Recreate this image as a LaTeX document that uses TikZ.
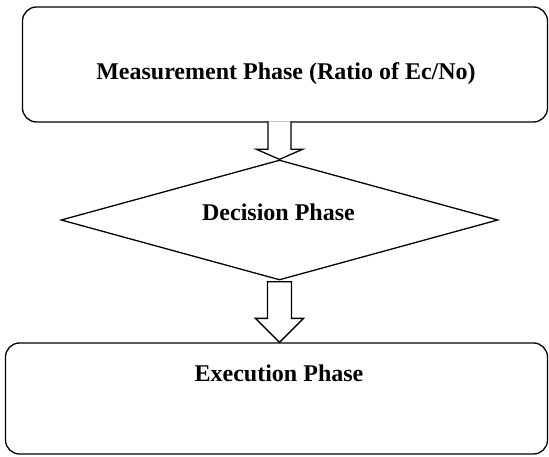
\documentclass[tikz,border=0pt]{standalone}
\usepackage{fontspec}
\setmainfont{Liberation Serif}
\usetikzlibrary{shapes.geometric,calc}
\tikzset{
  phasebox/.style={draw=black, line width=1.3pt, rounded corners=14pt, inner sep=0pt},
  decbox/.style={draw=black, line width=1.3pt, diamond, inner sep=0pt},
  lbl/.style={font=\fontsize{24}{28}\selectfont\bfseries, anchor=base, inner sep=0pt},
  blockarrow/.style={draw=black, line width=1.3pt, fill=white, line join=miter}
}
\begin{document}
\begin{tikzpicture}[x=1pt,y=-1pt]
\useasboundingbox (0,0) rectangle (549,457);
\node[phasebox, minimum width=525pt, minimum height=115pt] (meas) at (285,64.5) {};
\node[decbox, minimum width=437pt, minimum height=120pt] (dec) at (279.5,220) {};
\node[phasebox, minimum width=542pt, minimum height=111pt] (exec) at (276.5,398.5) {};
\node[lbl] (tmeas) at (286,80) {Measurement Phase (Ratio of Ec/No)};
\node[lbl] (tdec) at (278.5,221) {Decision Phase};
\node[lbl] (texec) at (279,381) {Execution Phase};
% arrow 1
\coordinate (t1) at (dec.north);
\draw[blockarrow] ($(t1)+(-11.5,-38)$) -- ($(t1)+(-11.5,-10)$) -- ($(t1)+(-23,-10)$) -- (t1)
  -- ($(t1)+(23,-10)$) -- ($(t1)+(11.5,-10)$) -- ($(t1)+(11.5,-38)$);
% arrow 2
\coordinate (t2) at (dec.south |- exec.north);
\draw[blockarrow] ($(dec.south)+(-12,1)$) -- ($(t2)+(-12,-24)$) -- ($(t2)+(-24,-24)$) -- (t2)
  -- ($(t2)+(24,-24)$) -- ($(t2)+(12,-24)$) -- ($(dec.south)+(12,1)$) -- cycle;
\end{tikzpicture}
\end{document}
